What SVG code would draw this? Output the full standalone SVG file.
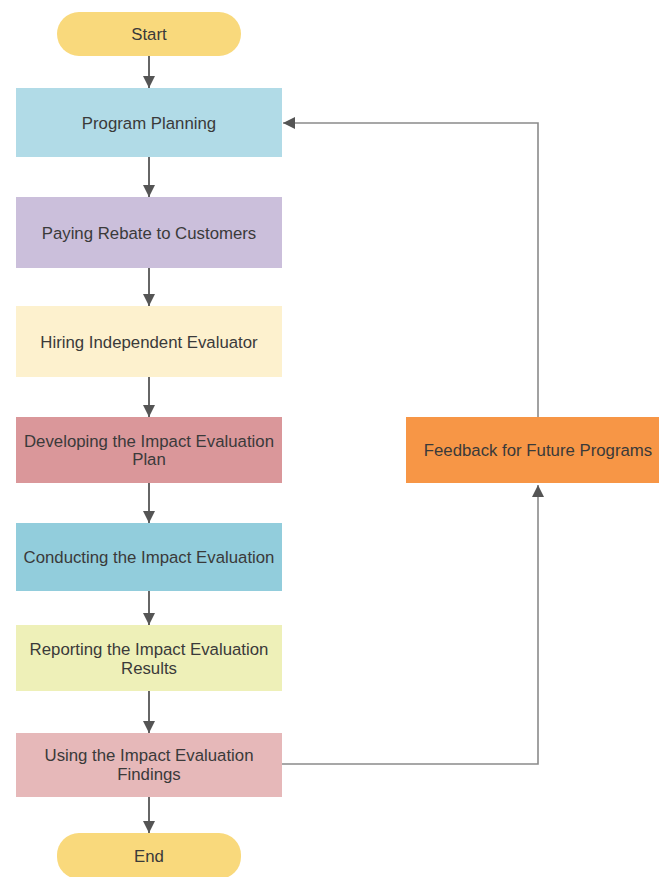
<svg xmlns="http://www.w3.org/2000/svg" width="659" height="877" viewBox="0 0 659 877">
<style>
.t{font-family:"Liberation Sans",Arial,sans-serif;font-size:16.8px;fill:#3a3a3a;text-anchor:middle}
.c{fill:none;stroke:#666;stroke-width:2}
.f{fill:none;stroke:#8a8a8a;stroke-width:1.6}
</style>
<defs>
<marker id="ah" markerUnits="userSpaceOnUse" markerWidth="13" markerHeight="12" viewBox="0 0 13 12" refX="12" refY="6" orient="auto">
<path d="M0,0 L12,6 L0,12 Z" fill="#555"/>
</marker>
</defs>
<rect width="659" height="877" fill="#fff"/>
<g id="connectors">
<line class="c" x1="149" y1="56" x2="149" y2="88" marker-end="url(#ah)"/>
<line class="c" x1="149" y1="157" x2="149" y2="197" marker-end="url(#ah)"/>
<line class="c" x1="149" y1="268" x2="149" y2="306" marker-end="url(#ah)"/>
<line class="c" x1="149" y1="377" x2="149" y2="417" marker-end="url(#ah)"/>
<line class="c" x1="149" y1="483" x2="149" y2="523" marker-end="url(#ah)"/>
<line class="c" x1="149" y1="591" x2="149" y2="625" marker-end="url(#ah)"/>
<line class="c" x1="149" y1="691" x2="149" y2="733" marker-end="url(#ah)"/>
<line class="c" x1="149" y1="797" x2="149" y2="833" marker-end="url(#ah)"/>
<polyline class="f" points="282,764 538,764 538,485" marker-end="url(#ah)"/>
<polyline class="f" points="538,417 538,123 283,123" marker-end="url(#ah)"/>
</g>
<g id="start"><rect x="57" y="12" width="184" height="44" rx="22" fill="#F9D97C"/><text class="t" x="149" y="40">Start</text></g>
<g id="program-planning"><rect x="16" y="88" width="266" height="69" fill="#B1DBE7"/><text class="t" x="149" y="129">Program Planning</text></g>
<g id="paying-rebate"><rect x="16" y="197" width="266" height="71" fill="#CBBFDB"/><text class="t" x="149" y="239">Paying Rebate to Customers</text></g>
<g id="hiring"><rect x="16" y="306" width="266" height="71" fill="#FDF1CE"/><text class="t" x="149" y="348">Hiring Independent Evaluator</text></g>
<g id="developing"><rect x="16" y="417" width="266" height="66" fill="#DA979A"/><text class="t" x="149" y="447">Developing the Impact Evaluation</text><text class="t" x="149" y="465">Plan</text></g>
<g id="conducting"><rect x="16" y="523" width="266" height="68" fill="#92CDDC"/><text class="t" x="149" y="563">Conducting the Impact Evaluation</text></g>
<g id="reporting"><rect x="16" y="625" width="266" height="66" fill="#EEF0B8"/><text class="t" x="149" y="655">Reporting the Impact Evaluation</text><text class="t" x="149" y="674">Results</text></g>
<g id="using"><rect x="16" y="733" width="266" height="64" fill="#E6B8B9"/><text class="t" x="149" y="761">Using the Impact Evaluation</text><text class="t" x="149" y="780">Findings</text></g>
<g id="end"><rect x="57" y="833" width="184" height="46" rx="22" fill="#F9D97C"/><text class="t" x="149" y="862">End</text></g>
<g id="feedback"><rect x="406" y="417" width="264" height="66" fill="#F79646"/><text class="t" x="538" y="456">Feedback for Future Programs</text></g>
</svg>
